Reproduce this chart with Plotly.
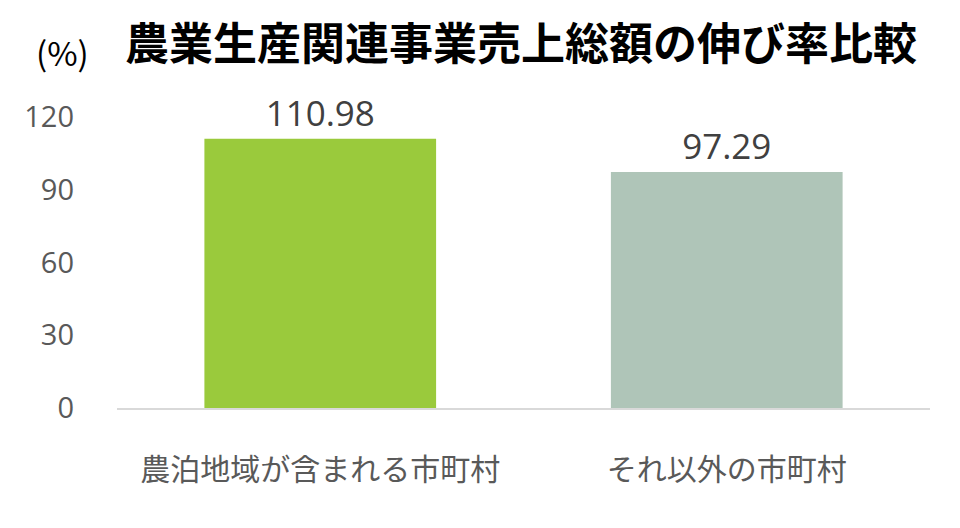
import plotly.graph_objects as go

categories = ["農泊地域が含まれる市町村", "それ以外の市町村"]
values = [110.98, 97.29]
value_labels = ["110.98", "97.29"]
bar_colors = ["#9ACA3C", "#AFC5B8"]
y_ticks = [0, 30, 60, 90, 120]
title_text = "農業生産関連事業売上総額の伸び率比較"
unit_text = "(%)"

FONT = "Noto Sans CJK JP"
NUM_FONT = "Open Sans"
# page body has an 8px margin; the figure is sized to fit inside it
OFF = 8
W, H = 960 - 2 * OFF, 528 - 2 * OFF
L = 117 - OFF
T = 117 - OFF
R = W - (930 - OFF)
B = H - (408 - OFF)

fig = go.Figure(
    go.Bar(
        x=categories,
        y=values,
        marker=dict(color=bar_colors, line=dict(width=0)),
        text=value_labels,
        textposition="outside",
        textfont=dict(family=NUM_FONT, size=35, color="#404040"),
        cliponaxis=False,
    )
)

plot_w = W - L - R
plot_h = H - T - B

fig.update_layout(
    width=W,
    height=H,
    margin=dict(l=L, r=R, t=T, b=B, autoexpand=False),
    paper_bgcolor="white",
    plot_bgcolor="white",
    showlegend=False,
    bargap=0.43,
    title=dict(
        text="<b>" + title_text + "</b>",
        font=dict(family=FONT, size=44, color="#000000"),
        x=(521 - OFF) / W,
        xanchor="center",
        y=1 - (45 - OFF) / H,
        yanchor="middle",
    ),
    annotations=[
        dict(
            text=unit_text,
            xref="paper",
            yref="paper",
            x=(62 - OFF - L) / plot_w,
            y=(H - B - (52 - OFF)) / plot_h,
            xanchor="center",
            yanchor="middle",
            showarrow=False,
            font=dict(family=FONT, size=33, color="#000000"),
        )
    ],
)

fig.update_yaxes(
    range=[0, 120],
    tickvals=y_ticks,
    showgrid=False,
    zeroline=False,
    showline=False,
    ticks="",
    automargin=False,
    ticklabelstandoff=42,
    tickfont=dict(family=NUM_FONT, size=29, color="#595959"),
)
fig.update_xaxes(
    showline=True,
    linecolor="#D9D9D9",
    linewidth=1.5,
    showgrid=False,
    ticks="",
    automargin=False,
    ticklabelstandoff=34,
    tickfont=dict(family=FONT, size=30, color="#595959"),
)

fig.write_html("out.html")
